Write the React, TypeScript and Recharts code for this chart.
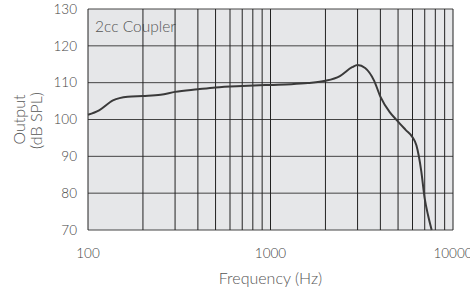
import React from "react";
import {
  LineChart,
  Line,
  XAxis,
  YAxis,
  CartesianGrid,
  ReferenceLine,
} from "recharts";

// Frequency response (Hz, dB SPL)
const freqs = [
  100, 115, 137, 165, 200, 250, 300, 400, 500, 700, 1000, 1300, 1600, 2000,
  2400, 2800, 3000, 3300, 3700, 4000, 4500, 4900, 5500, 6000, 6300, 6700, 7000,
  7300, 7640,
];
const output = [
  101.3, 102.5, 105.2, 106.2, 106.4, 106.7, 107.5, 108.2, 108.7, 109.1, 109.4,
  109.6, 109.9, 110.5, 111.8, 114.2, 114.8, 114.0, 110.5, 106.2, 102.0, 99.9,
  97.2, 95.2, 93.0, 86.0, 78.5, 74.0, 70.0,
];

const xTicks = [100, 1000, 10000];
const yTicks = [70, 80, 90, 100, 110, 120, 130];
const gridFreqs = [
  100, 200, 300, 400, 500, 600, 700, 800, 900, 1000, 2000, 3000, 4000, 5000,
  6000, 7000, 8000, 9000, 10000,
];

const data = freqs.map((f, i) => ({ f, v: output[i] }));

const FONT = "Lato, 'Open Sans', sans-serif";

function YLabel(props: any) {
  const { y, height } = props.viewBox;
  const cy = y + height / 2;
  return (
    <g fill="#555" fontFamily={FONT} fontWeight={300} fontSize={16}>
      <text x={18} y={cy} transform={`rotate(-90 18 ${cy})`} textAnchor="middle" dominantBaseline="central">
        Output
      </text>
      <text x={35} y={cy + 1} transform={`rotate(-90 35 ${cy + 1})`} textAnchor="middle" dominantBaseline="central">
        (dB SPL)
      </text>
    </g>
  );
}

export default function App() {
  return (
    <div style={{ position: "absolute", left: 0, top: 0 }}>
      <LineChart
        width={470}
        height={288}
        data={data}
        margin={{ top: 9, right: 17, left: 0, bottom: 0 }}
      >
        <CartesianGrid
          vertical={false}
          fill="#e6e7e9"
          stroke="#444"
          strokeOpacity={1}
        />
        {gridFreqs.map((g) => (
          <ReferenceLine key={g} x={g} stroke="#222" strokeWidth={1} />
        ))}
        <XAxis
          dataKey="f"
          type="number"
          scale="log"
          domain={[100, 10000]}
          ticks={xTicks}
          axisLine={false}
          tickLine={false}
          tickSize={0}
          tickMargin={18}
          height={58}
          tick={{ fill: "#444", fontSize: 13.5, fontFamily: FONT, fontWeight: 300 }}
          label={{
            value: "Frequency (Hz)",
            position: "insideBottom",
            offset: 4,
            fill: "#555",
            fontSize: 16,
            fontFamily: FONT,
            fontWeight: 300,
          }}
        />
        <YAxis
          type="number"
          domain={[70, 130]}
          ticks={yTicks}
          axisLine={false}
          tickLine={false}
          tickSize={0}
          tickMargin={11}
          width={88}
          interval={0}
          tick={{ fill: "#444", fontSize: 13.5, fontFamily: FONT, fontWeight: 300 }}
          label={{ content: YLabel }}
        />
        <Line
          type="monotone"
          dataKey="v"
          stroke="#3a3a3a"
          strokeWidth={2}
          dot={false}
          isAnimationActive={false}
        />
        <text x={95} y={26} fill="#555" fontSize={15.5} fontFamily={FONT} fontWeight={300} dominantBaseline="central">
          2cc Coupler
        </text>
      </LineChart>
    </div>
  );
}
